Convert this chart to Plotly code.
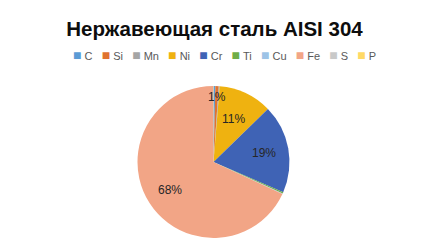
import math
import plotly.graph_objects as go

# ---- data ----
elements = ["C", "Si", "Mn", "Ni", "Cr", "Ti", "Cu", "Fe", "S", "P"]
shares = [0.4, 0.7, 0.2, 11.4, 18.8, 0.3, 0.1, 68.0, 0.03, 0.045]
shown_labels = ["", "1%", "", "11%", "19%", "", "", "68%", "", ""]
title_text = "Нержавеющая сталь AISI 304"

# ---- style ----
colors = ["#5B9BD5", "#E07330", "#A5A5A5", "#EFB210", "#3F63B5",
          "#70AD47", "#9DC3E6", "#F2A586", "#C9C9C9", "#FFD966"]
label_radius = [0.66, 0.86, 0.66, 0.62, 0.68, 0.66, 0.66, 0.68, 0.66, 0.66]
W, H = 429, 242
dom_x = [0.3205, 0.6748]
dom_y = [0.0165, 0.645]

fig = go.Figure(go.Pie(
    labels=elements,
    values=shares,
    sort=False,
    direction="clockwise",
    rotation=0,
    marker=dict(colors=colors, line=dict(width=0)),
    textinfo="none",
    hoverinfo="label+percent",
    showlegend=False,
    domain=dict(x=dom_x, y=dom_y),
))

# pie geometry in pixels (derived from domain)
cx = (dom_x[0] + dom_x[1]) / 2 * W
cy = (1 - (dom_y[0] + dom_y[1]) / 2) * H
R = min((dom_x[1] - dom_x[0]) * W, (dom_y[1] - dom_y[0]) * H) / 2

total = sum(shares)
cum = 0.0
annotations = []
for name, v, lab, rf in zip(elements, shares, shown_labels, label_radius):
    mid = (cum + v / 2) / total
    cum += v
    if not lab:
        continue
    th = 2 * math.pi * mid
    px = cx + rf * R * math.sin(th)
    py = cy - rf * R * math.cos(th)
    annotations.append(dict(
        x=px / W, y=1 - py / H, xref="paper", yref="paper",
        text=lab, showarrow=False,
        font=dict(family="Liberation Sans, Arial, sans-serif", size=12, color="#262626"),
        xanchor="center", yanchor="middle",
    ))

# legend row (text built from categories and colours)
sp = "\u00a0"
items = [f"<span style='color:{c};font-size:14px'>■</span>{sp}{e}" for e, c in zip(elements, colors)]
legend_text = (sp * 3).join(items)
annotations.append(dict(
    x=0.524, y=1 - 55 / H, xref="paper", yref="paper",
    text=legend_text, showarrow=False,
    font=dict(family="Liberation Sans, Arial, sans-serif", size=11, color="#595959"),
    xanchor="center", yanchor="middle",
))

fig.update_layout(
    width=W, height=H,
    margin=dict(l=0, r=0, t=0, b=0),
    paper_bgcolor="white",
    plot_bgcolor="white",
    title=dict(
        text=f"<b>{title_text}</b>",
        x=0.5, xanchor="center", y=1 - 29 / H, yanchor="middle",
        font=dict(family="Liberation Sans, Arial, sans-serif", size=20.5, color="#0D0D0D"),
    ),
    annotations=annotations,
)

fig.write_html("out.html")
